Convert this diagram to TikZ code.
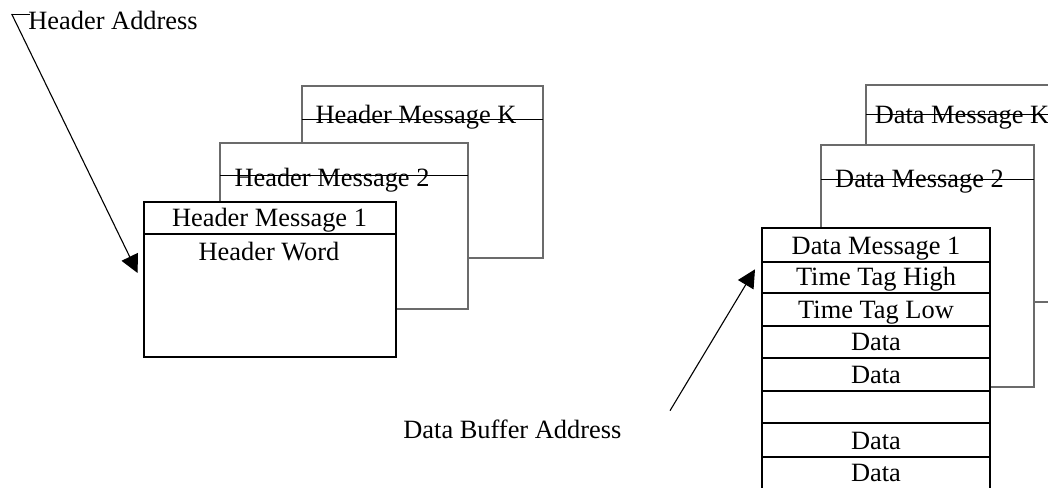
\documentclass[tikz,border=0pt]{standalone}
\usepackage{fontspec}
\setmainfont{Liberation Serif}
\usetikzlibrary{arrows.meta}
\begin{document}
\begin{tikzpicture}[x=0.5pt,y=-0.5pt,
  lbl/.style={font=\fontsize{13.2}{15}\selectfont, inner sep=0pt, anchor=base},
  backbox/.style={draw=black!58, line width=0.55pt, fill=white, anchor=north west, inner sep=0pt, outer sep=0pt},
  frontbox/.style={draw=black, line width=1pt, fill=white, anchor=north west, inner sep=0pt, outer sep=0pt},
  rowbox/.style={frontbox, minimum width=114pt},
  divider/.style={draw=black, line width=0.5pt},
  ptr/.style={draw=black, line width=0.55pt, -{Triangle[length=9pt,width=9pt]}}]
\useasboundingbox (0,0) rectangle (1048,487);
\clip (0,0) rectangle (1048,487);

% ---------- Header stack ----------
\node[backbox, minimum width=120.5pt, minimum height=86pt] (hK) at (302,86) {};
\draw[divider] (302,119.3) -- (543,119.3);
\node[lbl] (hKt) at (416,123.3) {Header Message K};

\node[backbox, minimum width=124pt, minimum height=83pt] (h2) at (220,143) {};
\draw[divider] (220,175.7) -- (468,175.7);
\node[lbl] (h2t) at (332,186.5) {Header Message 2};

\node[frontbox, minimum width=126pt, minimum height=77.2pt] (h1) at (144,202.3) {};
\draw[line width=1pt] (144,234) -- (396,234);
\node[lbl] (h1t) at (269.5,226.7) {Header Message 1};
\node[lbl] (h1w) at (269,260) {Header Word};

% Header address pointer
\coordinate (hatail) at (11.7,14);
\coordinate (hatip) at ([xshift=-3.2pt]h1.west |- 0,273);
\draw[divider] (hatail) -- ++(18,0);
\node[lbl, anchor=base west] (hal) at (28,29.5) {Header Address};
\draw[ptr] (hatail) -- (hatip);

% ---------- Data stack ----------
\node[backbox, minimum width=115pt, minimum height=108.5pt] (dK) at (866,85) {};
\draw[divider] (866,114.3) -- (1100,114.3);
\node[lbl] (dKt) at (962,123.3) {Data Message K};

\node[backbox, minimum width=106.5pt, minimum height=121pt] (d2) at (821,145) {};
\draw[divider] (821,179) -- (1034,179);
\node[lbl] (d2t) at (919.5,187) {Data Message 2};

\foreach \i/\top/\bot/\txt in {1/228/261.7/Data Message 1, 2/261.7/292.7/Time Tag High,
  3/292.7/325.7/Time Tag Low, 4/325.7/358.3/Data, 5/358.3/390.7/Data, 6/390.7/423.3/{},
  7/423.3/456.7/Data, 8/456.7/489.5/Data}{
  \node[rowbox, minimum height={(\bot-\top)*0.5pt}] (d1r\i) at (762,\top) {};
  \node[lbl] (d1t\i) at (876,\bot-7.6) {\txt};
}

% Data buffer address pointer
\node[lbl, anchor=base west] (dbl) at (403,438.3) {Data Buffer Address};
\coordinate (dbtail) at (670,410.7);
\coordinate (dbtip) at ([xshift=-3.5pt]d1r2.west |- 0,269.3);
\draw[ptr] (dbtail) -- (dbtip);
\end{tikzpicture}
\end{document}
